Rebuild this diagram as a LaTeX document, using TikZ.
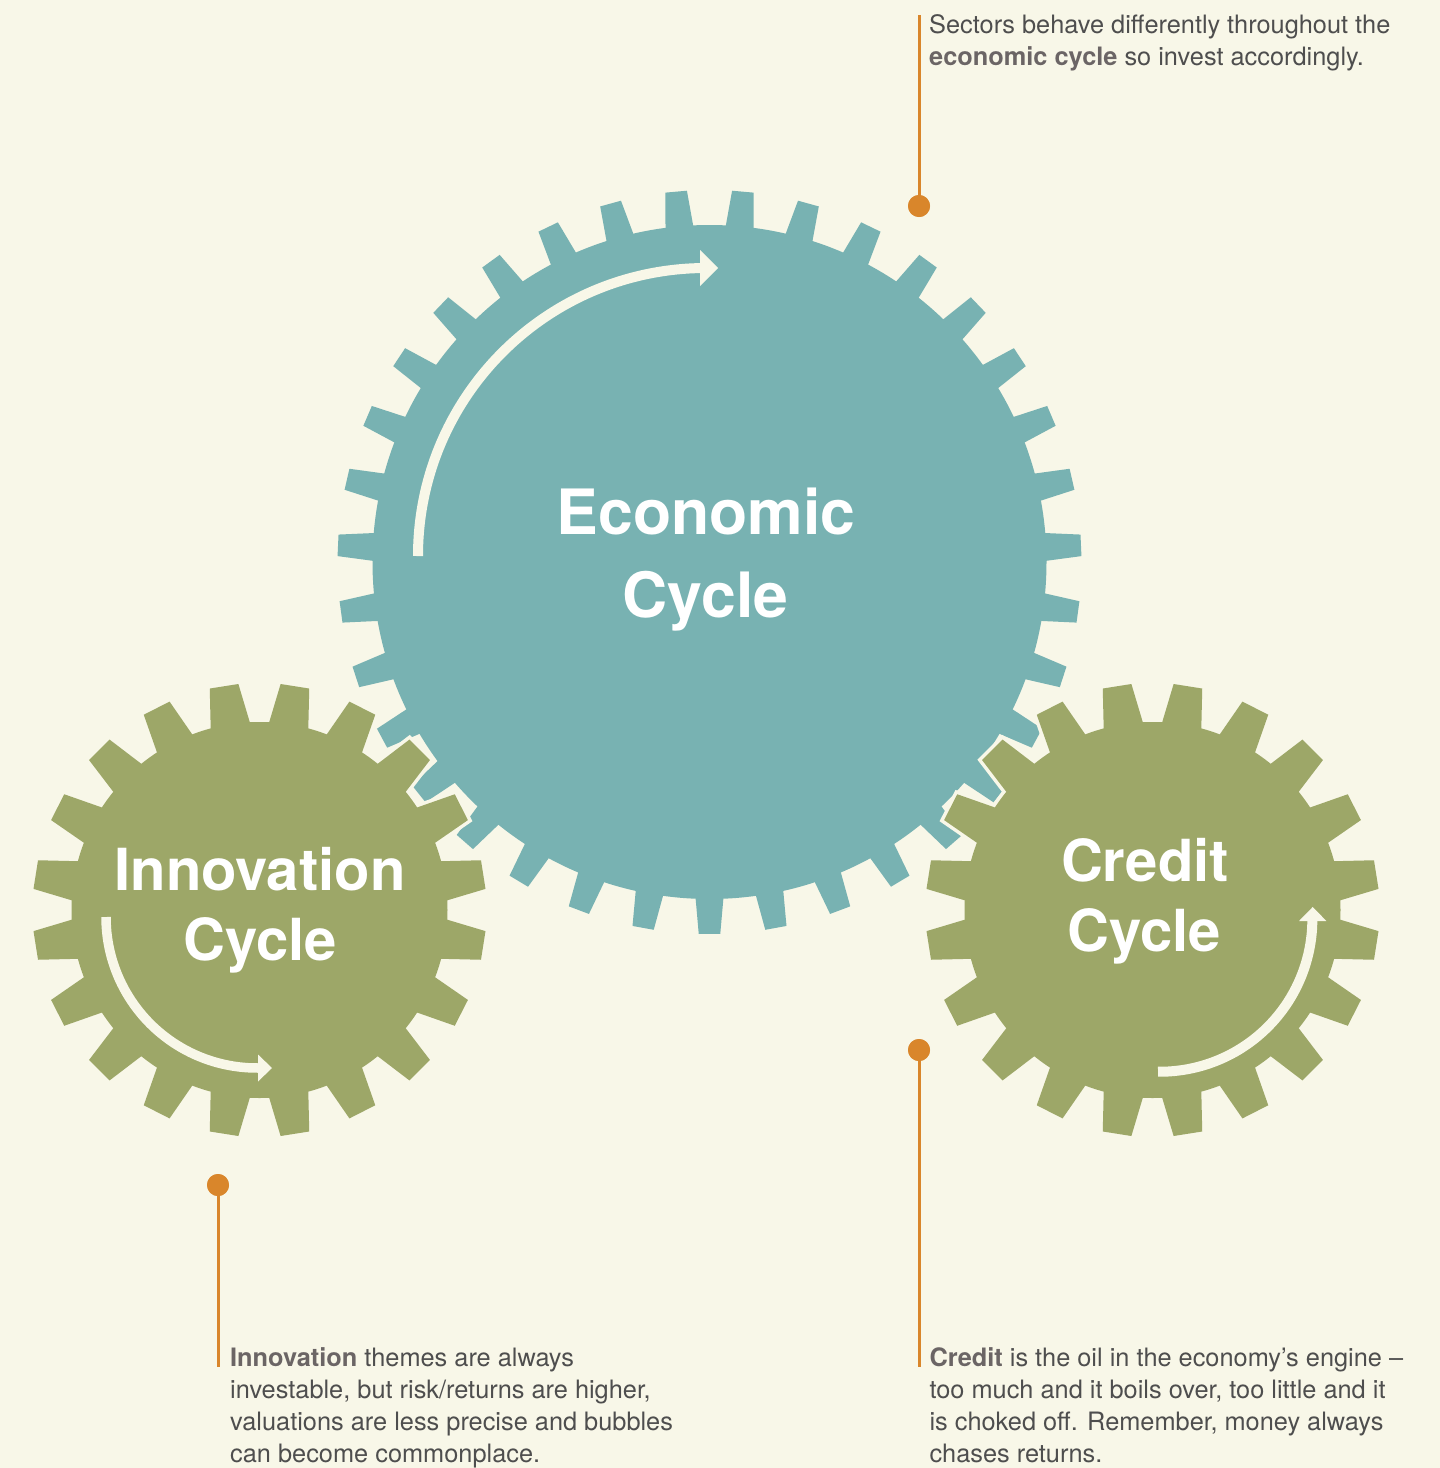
\documentclass[tikz,border=0pt]{standalone}
\usepackage{fontspec}
\setmainfont{TeX Gyre Heros}
\definecolor{bg}{HTML}{F8F7E8}
\definecolor{teal}{HTML}{78B2B2}
\definecolor{olive}{HTML}{9DA768}
\definecolor{orange}{HTML}{D9862B}
\definecolor{bodytext}{HTML}{4E4E4E}
\definecolor{boldtext}{HTML}{6B6565}
\tikzset{
  geartext/.style={anchor=base, text=white, inner sep=0pt, font=\fontsize{58}{70}\bfseries},
  bigtext/.style={anchor=base, text=white, inner sep=0pt, font=\fontsize{62.5}{72}\bfseries},
  callout/.style={anchor=base west, text=bodytext, inner sep=0pt, font=\fontsize{25.35}{32}\selectfont},
  leader/.style={draw=orange, line width=3pt},
  dot/.style={circle, fill=orange, minimum size=22pt, inner sep=0pt},
  band/.style={draw=bg, line cap=butt},
  head/.style={fill=bg}
}
\newcommand{\bt}[1]{\textcolor{boldtext}{\bfseries #1}}
\begin{document}
\begin{tikzpicture}[x=1pt,y=-1pt]
\fill[bg] (0,0) rectangle (1440,1468);
\useasboundingbox (0,0) rectangle (1440,1468);

% ---------- Economic gear (big, 35 teeth) ----------
\begin{scope}[shift={(709.5,562)}]
  \fill[teal] (0,0) circle[radius=337];
  \foreach \k in {0,...,34}{
    \pgfmathsetmacro\t{-90+180/35+\k*360/35}
    \fill[teal] ({\t-2.45}:333) -- ({\t-1.66}:372) -- ({\t+1.66}:372) -- ({\t+2.45}:333) -- cycle;
  }
\end{scope}

% ---------- small gears (20 teeth) ----------
\foreach \cx in {259.5,1152.5}{
  \begin{scope}[shift={(\cx,910)}]
    \filldraw[fill=bg, draw=bg, line width=7pt] (0,0) circle[radius=188];
    \foreach \k in {0,...,19}{
      \pgfmathsetmacro\t{9+18*\k}
      \filldraw[fill=bg, draw=bg, line width=7pt, line join=miter] ({\t-6.35}:184) -- ({\t-3.66}:227) -- ({\t+3.66}:227) -- ({\t+6.35}:184) -- cycle;
    }
    \fill[olive] (0,0) circle[radius=188];
    \foreach \k in {0,...,19}{
      \pgfmathsetmacro\t{9+18*\k}
      \fill[olive] ({\t-6.35}:184) -- ({\t-3.66}:227) -- ({\t+3.66}:227) -- ({\t+6.35}:184) -- cycle;
    }
  \end{scope}
}

% ---------- cycle arrows ----------
\draw[band, line width=10pt] (418,556) arc[start angle=180, end angle=268.8, radius=288];
\fill[head] (700,250) -- (718,268) -- (700,286) -- cycle;

\draw[band, line width=9.5pt] (106,917) arc[start angle=180, end angle=89.6, radius=151];
\fill[head] (258,1054.5) -- (272,1068) -- (258,1081.5) -- cycle;

\draw[band, line width=10pt] (1158,1071.7) arc[start angle=90.7, end angle=-0.5, radius=152.5];
\fill[head] (1299,921) -- (1312.7,907) -- (1326.4,921) -- cycle;

% ---------- gear titles ----------
\node[bigtext] (econA) at (706,534) {Economic};
\node[bigtext] (econB) at (705.5,617) {Cycle};
\node[geartext] (innoA) at (260,890) {Innovation};
\node[geartext] (innoB) at (260,960) {Cycle};
\node[geartext] (credA) at (1145,881.7) {Credit};
\node[geartext] (credB) at (1144,951.7) {Cycle};

% ---------- call-outs ----------
\node[dot] (dotE) at (919,206) {};
\coordinate (topE) at (919,15);
\draw[leader] (topE) -- (dotE.center);
\node[callout] (txtE1) at (929,33) {Sectors behave differently throughout the};
\node[callout] (txtE2) at (929,65) {\bt{economic cycle} so invest accordingly.};

\node[dot] (dotI) at (218,1185) {};
\coordinate (endI) at (218,1367);
\draw[leader] (dotI.center) -- (endI);
\node[callout] (txtI1) at (230,1366) {\bt{Innovation} themes are always};
\node[callout] (txtI2) at (230,1398) {investable, but risk/returns are higher,};
\node[callout] (txtI3) at (230,1430) {valuations are less precise and bubbles};
\node[callout] (txtI4) at (230,1462) {can become commonplace.};

\node[dot] (dotC) at (919,1050) {};
\coordinate (endC) at (919,1367);
\draw[leader] (dotC.center) -- (endC);
\node[callout] (txtC1) at (929.3,1366) {\bt{Credit} is the oil in the economy’s engine –};
\node[callout] (txtC2) at (929.3,1398) {too much and it boils over, too little and it};
\node[callout] (txtC3) at (929.3,1430) {is choked off. Remember, money always};
\node[callout] (txtC4) at (929.3,1462) {chases returns.};

% dots above leaders
\fill[orange] (dotE) circle[radius=11];
\fill[orange] (dotI) circle[radius=11];
\fill[orange] (dotC) circle[radius=11];
\end{tikzpicture}
\end{document}
